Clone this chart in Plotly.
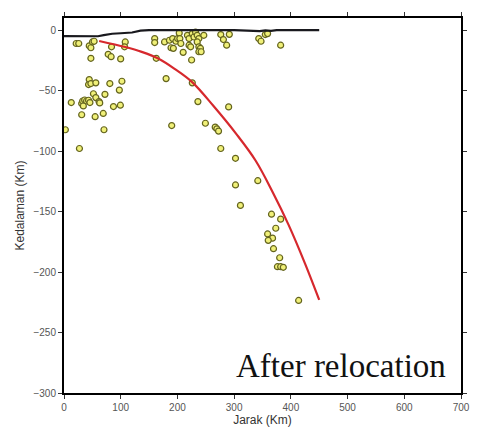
import plotly.graph_objects as go

# Hypocenter positions (distance km, depth km)
eq_dist = [2.4, 12.8, 21.5, 26.0, 27.2, 31.2, 31.2, 32.9, 34.1, 36.4, 39.8, 43.3, 45.7, 44.5, 47.4,
           50.2, 53.1, 47.4, 44.5, 43.3, 47.4, 56.1, 51.9, 56.1, 61.8, 63.0, 54.9, 69.2, 70.5, 72.2,
           77.9, 83.1, 83.8, 80.8, 87.2, 99.4, 97.6, 99.9, 102.1, 108.0, 106.8, 159.9, 159.9, 177.3,
           180.0, 185.9, 188.7, 191.6, 192.8, 197.3, 200.3, 189.9, 203.2, 204.3, 206.0, 210.1, 217.6,
           220.5, 220.5, 223.3, 225.0, 226.2, 229.2, 231.9, 234.9, 237.8, 234.9, 237.8, 240.6, 237.8,
           241.8, 246.5, 226.2, 236.1, 249.3, 266.6, 269.5, 272.5, 276.4, 281.1, 286.8, 291.5, 290.3,
           276.4, 302.4, 302.4, 341.7, 311.1, 365.9, 382.0, 373.4, 359.0, 367.7, 360.1, 369.4, 380.3,
           376.3, 382.0, 386.7, 413.7, 343.4, 347.4, 354.9, 359.0, 382.0, 162.7]
eq_depth = [-82.4, -59.9, -11.1, -11.1, -97.9, -70.0, -60.7, -58.6, -62.7, -57.8, -58.6, -58.0, -59.9,
            -13.0, -14.6, -9.8, -9.2, -23.3, -40.9, -45.0, -44.2, -43.6, -52.6, -55.8, -59.1, -60.2,
            -71.6, -68.9, -82.4, -53.1, -20.0, -22.0, -13.8, -44.2, -63.2, -62.1, -49.6, -23.8, -42.3,
            -9.8, -13.8, -7.0, -10.3, -9.8, -40.1, -8.4, -14.6, -7.0, -15.1, -9.2, -7.0, -78.9, -2.4,
            -7.0, -11.1, -18.4, -4.3, -7.0, -12.5, -13.8, -24.7, -2.9, -5.7, -1.6, -4.3, -7.0, -9.8,
            -13.8, -15.1, -17.9, -17.9, -4.3, -43.6, -59.1, -77.0, -80.2, -81.6, -83.5, -3.7, -7.8,
            -12.5, -3.5, -63.5, -97.9, -106.0, -128.0, -124.5, -144.9, -152.2, -156.3, -163.8, -168.5,
            -172.0, -173.8, -180.7, -188.2, -195.6, -195.6, -196.1, -223.5, -7.0, -9.2, -3.7, -2.9,
            -12.5, -23.3]

# Slab model (red curve)
slab_dist = [62, 108, 137, 166, 195, 226, 264, 304, 338, 368, 396, 425, 450]
slab_depth = [-9, -14, -18, -23.5, -32, -43, -63, -86, -108, -134, -161, -193, -223]

# Topography (black line)
topo_dist = [0, 60, 70, 85, 100, 120, 135, 150, 300, 335, 345, 355, 365, 375, 385, 450]
topo_depth = [-5, -5.1, -4.2, -3.0, -2.6, -2.0, -0.5, 0, 0, -0.2, -0.8, -0.2, -0.7, -0.1, 0, 0]

x_ticks = [0, 100, 200, 300, 400, 500, 600, 700]
y_ticks = [0, -50, -100, -150, -200, -250, -300]

fig = go.Figure()
fig.add_trace(go.Scatter(x=eq_dist, y=eq_depth, mode="markers",
                         marker=dict(size=6, color="rgb(240,240,120)",
                                     line=dict(color="rgb(100,100,30)", width=1.2)),
                         showlegend=False))
fig.add_trace(go.Scatter(x=slab_dist, y=slab_depth, mode="lines", line_shape="spline",
                         line=dict(color="rgb(214,40,45)", width=2.2), showlegend=False))
fig.add_trace(go.Scatter(x=topo_dist, y=topo_depth, mode="lines",
                         line=dict(color="rgb(25,25,30)", width=2.2), showlegend=False))

axis_common = dict(showgrid=False, zeroline=False, showline=True, linecolor="black", linewidth=2,
                   mirror="ticks", ticks="outside", ticklen=4, tickwidth=1, tickcolor="#333",
                   tickfont=dict(family="Liberation Sans, Arial", size=10, color="#555"))

fig.update_xaxes(range=[0, 700], tickvals=x_ticks,
                 title=dict(text="Jarak (Km)", font=dict(family="Liberation Sans, Arial", size=12, color="#333"),
                            standoff=2),
                 **axis_common)
fig.update_yaxes(range=[-300, 10], tickvals=y_ticks,
                 title=dict(text="Kedalaman (Km)", font=dict(family="Liberation Sans, Arial", size=12, color="#333"),
                            standoff=6),
                 **axis_common)

fig.add_annotation(text="After relocation", xref="paper", yref="paper", x=0.968, y=0.018,
                   xanchor="right", yanchor="bottom", showarrow=False,
                   font=dict(family="Liberation Serif, Times New Roman, serif", size=33, color="#111"))

fig.update_layout(width=482, height=435, margin=dict(l=64, r=12, t=12, b=42),
                  plot_bgcolor="white", paper_bgcolor="white")

fig.write_html("out.html")
